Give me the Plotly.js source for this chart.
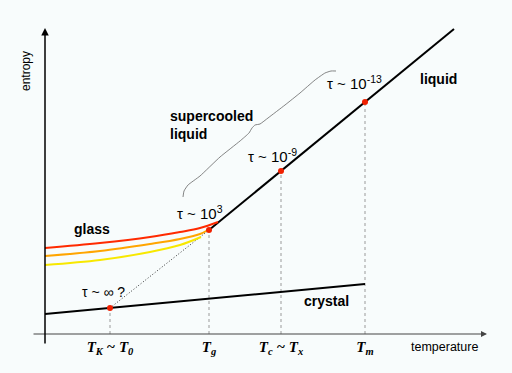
<!DOCTYPE html>
<html>
<head>
<meta charset="utf-8">
<script src="https://cdn.plot.ly/plotly-3.0.1.min.js"></script>
<style>
  html, body { margin: 0; padding: 0; background: #f8fcfc; }
  #chart { width: 512px; height: 373px; }
</style>
</head>
<body>
<div id="chart"></div>
<script>
// temperature / entropy in arbitrary units
const tickTemps = [65, 164, 236, 320];
const tickLabels = [
  "<b><i>T<sub>K</sub> ~ T<sub>0</sub></i></b>",
  "<b><i>T<sub>g</sub></i></b>",
  "<b><i>T<sub>c</sub> ~ T<sub>x</sub></i></b>",
  "<b><i>T<sub>m</sub></i></b>"
];

// equilibrium liquid
const liquidT = [164, 409];
const liquidS = [104, 305];

// crystal
const crystalT = [0, 320];
const crystalS = [20, 50];

// glass branches (fast, medium, slow cooling)
const glassRedT = [0, 55, 105, 135, 155, 173];
const glassRedS = [86, 91, 97, 102, 106, 112];
const glassOrangeT = [0, 55, 105, 135, 155, 163];
const glassOrangeS = [78, 83, 90, 95, 100, 104];
const glassYellowT = [0, 55, 105, 135, 156];
const glassYellowS = [69, 74, 82, 89, 97];

// extrapolated supercooled liquid down to T_K
const extrapT = [65, 164];
const extrapS = [26, 104];

// marked states
const markT = [65, 164, 236, 320];
const markS = [26, 104, 163, 232];

// brace over the supercooled range
const braceT = [138, 139, 143, 155, 175, 195, 204, 207, 210, 215, 223, 240, 255, 270, 280, 286, 291];
const braceS = [137, 143, 149, 158, 177, 193, 201, 206, 209, 210, 216, 229, 241, 254, 261, 263, 263];

const dropX = [], dropY = [];
markT.forEach((t, i) => { dropX.push(t, t, null); dropY.push(0, markS[i], null); });

const traces = [
  { x: dropX, y: dropY, mode: "lines", line: { color: "#9a9a9a", width: 1, dash: "3px,3px" } },
  { x: crystalT, y: crystalS, mode: "lines", line: { color: "#000", width: 2 } },
  { x: liquidT, y: liquidS, mode: "lines", line: { color: "#000", width: 2 } },
  { x: extrapT, y: extrapS, mode: "lines", line: { color: "#333", width: 1, dash: "1px,2px" } },
  { x: glassYellowT, y: glassYellowS, mode: "lines", line: { color: "#f8e800", width: 2, shape: "spline" } },
  { x: glassOrangeT, y: glassOrangeS, mode: "lines", line: { color: "#ffa500", width: 2, shape: "spline" } },
  { x: glassRedT, y: glassRedS, mode: "lines", line: { color: "#ff2a00", width: 2, shape: "spline" } },
  { x: braceT, y: braceS, mode: "lines", line: { color: "#666", width: 0.8, shape: "spline", smoothing: 0.4 } },
  { x: markT, y: markS, mode: "markers", marker: { color: "#f02000", size: 6 } }
];

const sans = "Liberation Sans, Arial, sans-serif";
const note = (x, y, text, extra) => Object.assign({
  x: x, y: y, text: text, showarrow: false,
  font: { family: sans, size: 14, color: "#000" }
}, extra || {});
const tau = { font: { family: sans, size: 15, color: "#000" } };

const annotations = [
  // axes with arrowheads
  { x: 442, y: 0, ax: -13, ay: 0, axref: "x", ayref: "y", text: "", showarrow: true,
    arrowhead: 2, arrowsize: 1.2, arrowwidth: 1, arrowcolor: "#444" },
  { x: 0, y: 306, ax: 0, ay: -11, axref: "x", ayref: "y", text: "", showarrow: true,
    arrowhead: 2, arrowsize: 1, arrowwidth: 1.5, arrowcolor: "#000" },
  note(-19, 263, "entropy", { textangle: -90, font: { family: sans, size: 12, color: "#000" } }),
  note(399, -13, "temperature", { font: { family: sans, size: 12.5, color: "#000" } }),
  note(47, 105, "<b>glass</b>"),
  note(123, 209, "<b>supercooled<br>liquid</b>", { xanchor: "left", align: "left" }),
  note(393, 255, "<b>liquid</b>"),
  note(281, 33, "<b>crystal</b>"),
  note(155, 122, "τ ~ 10<sup>3</sup>", tau),
  note(227, 179, "τ ~ 10<sup>-9</sup>", tau),
  note(309, 252, "τ ~ 10<sup>-13</sup>", tau),
  note(58, 42, "τ ~ ∞ ?")
];

Plotly.newPlot("chart", traces, {
  width: 512,
  height: 373,
  margin: { l: 0, r: 0, t: 0, b: 0 },
  paper_bgcolor: "#f8fcfc",
  plot_bgcolor: "#f8fcfc",
  showlegend: false,
  hovermode: false,
  xaxis: {
    range: [-45, 467],
    anchor: "free",
    position: 37 / 373,
    showgrid: false, zeroline: false, showline: false, ticks: "",
    tickvals: tickTemps,
    ticktext: tickLabels,
    tickfont: { family: "Liberation Serif, Times New Roman, serif", size: 15, color: "#000" }
  },
  yaxis: {
    range: [-39, 334],
    showgrid: false, zeroline: false, showline: false, showticklabels: false, ticks: ""
  },
  annotations: annotations
}, { displayModeBar: false, staticPlot: true });
</script>
</body>
</html>
